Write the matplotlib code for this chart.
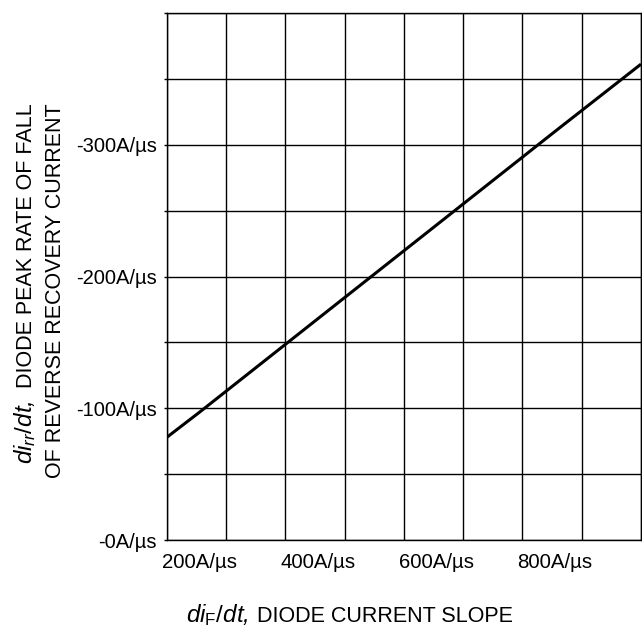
import matplotlib
matplotlib.use("Agg")
import matplotlib.pyplot as plt
import numpy as np

plt.rcParams['font.family'] = ['Liberation Sans', 'DejaVu Sans']
plt.rcParams['mathtext.fontset'] = 'custom'
plt.rcParams['mathtext.rm'] = 'Liberation Sans'
plt.rcParams['mathtext.it'] = 'Liberation Sans:italic'

# diF/dt (A/us) vs peak rate of fall of reverse recovery current (A/us, shown negative)
dif_dt = [145, 200, 400, 600, 800, 945]
dirr_dt = [78, 97, 168, 239, 310, 361]

x_ticks = [200, 400, 600, 800]
y_ticks = [0, 50, 100, 150, 200, 250, 300, 350, 400]
y_labels = ['-0A/µs', '', '-100A/µs', '', '-200A/µs', '', '-300A/µs', '', '']

W, H = 642, 626
fig = plt.figure(figsize=(W / 100, H / 100), dpi=100)
ax = fig.add_axes([166.7 / W, 1 - 540.3 / H, (641 - 166.7) / W, (540.3 - 12.7) / H])

ax.plot(dif_dt, dirr_dt, color='black', lw=2.2, solid_capstyle='butt')

ax.set_xlim(145, 945)
ax.set_ylim(0, 400)

# x labels sit between gridlines, grid drawn from minor ticks
ax.set_xticks(x_ticks)
ax.set_xticklabels([f'{v}A/µs' for v in x_ticks])
ax.set_xticks(np.arange(145, 946, 100), minor=True)
ax.tick_params(axis='x', which='both', length=0, pad=9, labelsize=14.7)
ax.grid(True, axis='x', which='minor', color='black', lw=1.0)

ax.set_yticks(y_ticks)
ax.set_yticklabels(y_labels)
ax.tick_params(axis='y', length=2.3, width=1.0, pad=5, labelsize=14.5)
ax.grid(True, axis='y', which='major', color='black', lw=1.0)

for s in ax.spines.values():
    s.set_linewidth(1.0)

# axis titles: italic symbol part larger than the caption
def px(x, y):
    return x / W, 1 - y / H

fig.text(*px(186, 621.7), r'$\mathit{di}_{\mathrm{F}}\mathit{/dt}$,', fontsize=17.5,
         fontstyle='italic', ha='left', va='baseline')
fig.text(*px(257, 621.7), 'DIODE CURRENT SLOPE', fontsize=15.5, ha='left', va='baseline')

fig.text(*px(32, 464), r'$\mathit{di}_{\mathit{rr}}\mathit{/dt}$,', fontsize=17.5,
         fontstyle='italic', rotation=90, rotation_mode='anchor', ha='left', va='baseline')
fig.text(*px(32, 103), 'DIODE PEAK RATE OF FALL', fontsize=15.5,
         rotation=90, rotation_mode='anchor', ha='right', va='baseline')
fig.text(*px(61, 103), 'OF REVERSE RECOVERY CURRENT', fontsize=15.5,
         rotation=90, rotation_mode='anchor', ha='right', va='baseline')

fig.savefig('out.png', dpi=100)
